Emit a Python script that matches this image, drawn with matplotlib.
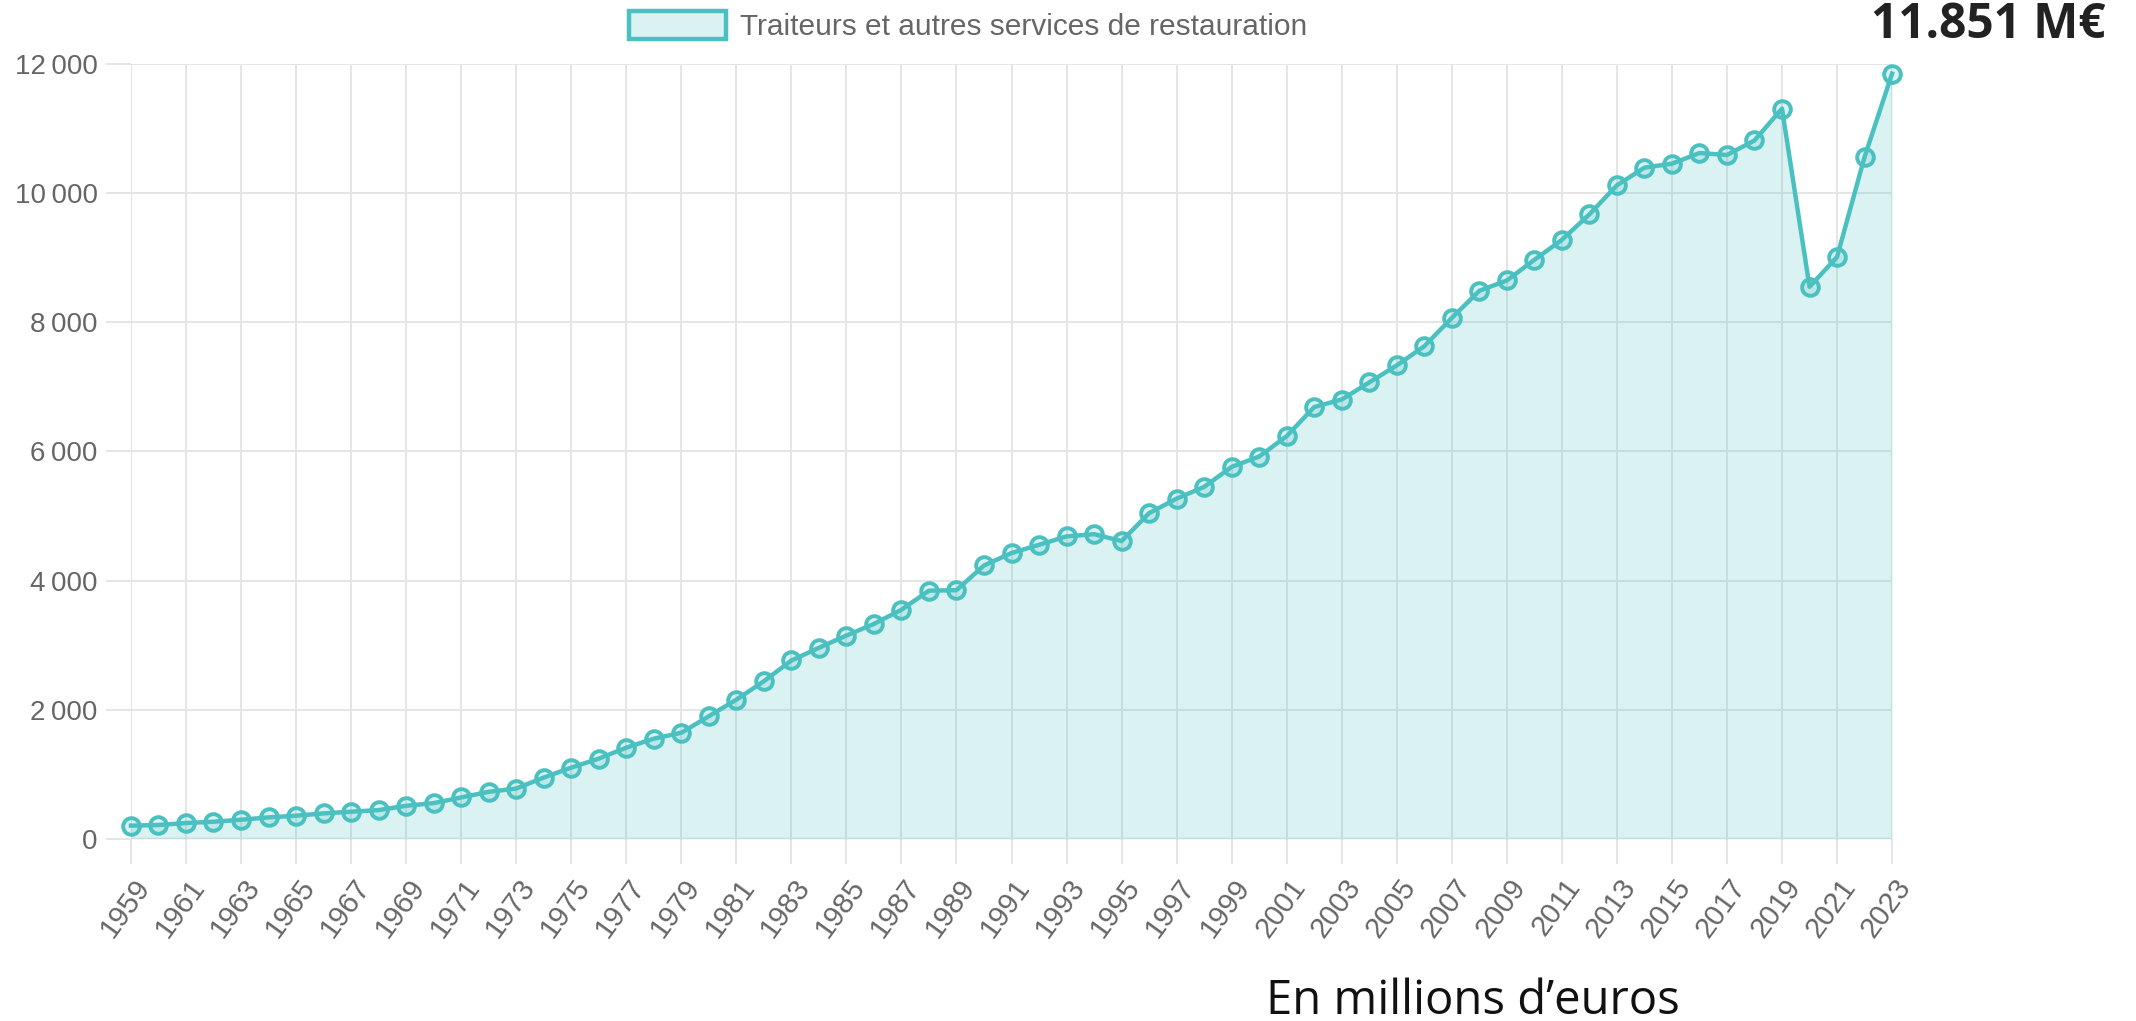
import matplotlib
matplotlib.use("Agg")
import matplotlib.pyplot as plt
import matplotlib.transforms as mtransforms
from matplotlib.patches import Patch

# chiffre d'affaires annuel, en millions d'euros
years = list(range(1959, 2024))
values = [206, 216, 247, 267, 298, 334, 360, 396, 422, 447,
          514, 555, 643, 730, 781, 951, 1105, 1244, 1414, 1553,
          1645, 1900, 2157, 2442, 2764, 2960, 3150, 3330, 3550, 3845,
          3852, 4235, 4428, 4555, 4685, 4720, 4612, 5045, 5270, 5452,
          5762, 5922, 6238, 6688, 6805, 7070, 7333, 7630, 8068, 8488,
          8648, 8968, 9277, 9672, 10122, 10395, 10457, 10622, 10592, 10816,
          11310, 8550, 9012, 10560, 11851]
series_label = "Traiteurs et autres services de restauration"
total_label = "11.851 M\u20ac"
unit_label = "En millions d\u2019euros"
y_ticks = [0, 2000, 4000, 6000, 8000, 10000, 12000]

teal = (75 / 255, 192 / 255, 192 / 255)
teal_fill = (75 / 255, 192 / 255, 192 / 255, 0.2)
grid_col = "#e5e5e5"
label_col = "#666666"

plt.rcParams["font.family"] = ["Liberation Sans", "DejaVu Sans"]

fig = plt.figure(figsize=(21.36, 10.21), dpi=100)
ax = fig.add_axes([0.0613, 0.1783, 0.8245, 0.7590])

ax.fill_between(years, values, 0, color=teal_fill, lw=0, zorder=2)
ax.plot(years, values, color=teal, lw=3.2, marker="o", ms=12, mew=2.8,
        mfc=teal_fill, mec=teal, zorder=3, clip_on=False)

ax.set_xlim(1959, 2023)
ax.set_ylim(0, 12000)
ax.set_xticks(years[::2])
ax.set_xticklabels([str(y) for y in years[::2]], rotation=54,
                   ha="right", va="center", rotation_mode="anchor")
ax.set_yticks(y_ticks)
ax.set_yticklabels([f"{v:,}".replace(",", "\u202f") for v in y_ticks])

ax.grid(True, color=grid_col, lw=1.4, zorder=1)
ax.axhline(0, color="#cfcfcf", lw=2.4, zorder=1)
for s in ax.spines.values():
    s.set_visible(False)
ax.tick_params(axis="both", length=18, width=1.4, color=grid_col,
               labelcolor=label_col, pad=6)
ax.tick_params(axis="y", labelsize=20)
ax.tick_params(axis="x", labelsize=21, pad=13)

# year labels: the end of each rotated label sits just right of its tick
shift = mtransforms.ScaledTranslation(13 / 100, 0, fig.dpi_scale_trans)
for lab in ax.get_xticklabels():
    lab.set_transform(lab.get_transform() + shift)

ax.legend(handles=[Patch(facecolor=teal_fill, edgecolor=teal, lw=3.2)],
          labels=[series_label], loc="upper left",
          bbox_to_anchor=(0.2945, 0.989), bbox_transform=fig.transFigure,
          frameon=False, fontsize=21.5, labelcolor=label_col,
          handlelength=3.25, handleheight=1.05, handletextpad=0.45,
          borderpad=0, borderaxespad=0)

fig.text(0.9855, 0.9628, total_label, ha="right", va="baseline",
         fontsize=34.5, fontweight="bold", color="#222222", family="Open Sans")
fig.text(0.6897, 0.007, unit_label, ha="center", va="baseline",
         fontsize=34, color="#111111", family="Open Sans")

fig.savefig("out.png", dpi=100)
